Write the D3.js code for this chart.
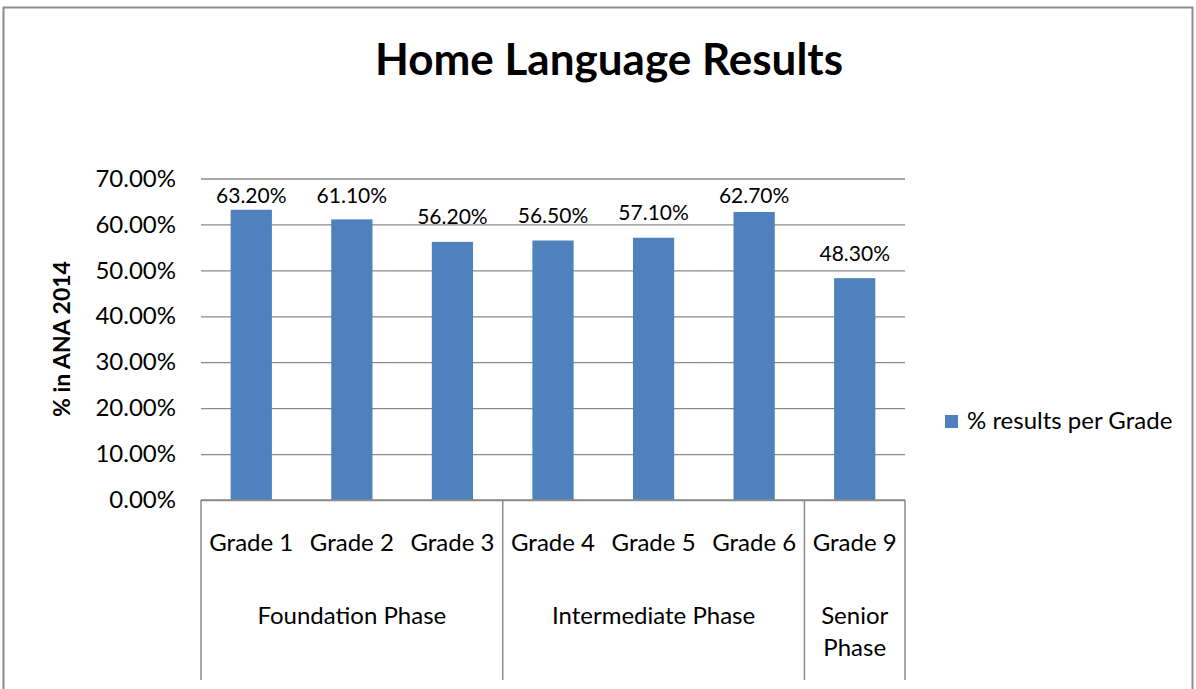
<!DOCTYPE html>
<html>
<head>
<meta charset="utf-8">
<script src="https://cdn.jsdelivr.net/npm/d3@7"></script>
<style>
  body { margin: 0; background: #fff; }
  svg { display: block; font-family: Lato, "Open Sans", sans-serif; }
</style>
</head>
<body>
<svg id="chart" width="1196" height="689"></svg>
<script>
const grades = ["Grade 1", "Grade 2", "Grade 3", "Grade 4", "Grade 5", "Grade 6", "Grade 9"];
const values = [63.2, 61.1, 56.2, 56.5, 57.1, 62.7, 48.3];
const phases = ["Foundation Phase", "Intermediate Phase", "Senior Phase"];
const phaseOfGrade = [0, 0, 0, 1, 1, 1, 2];
const yTicks = [0, 10, 20, 30, 40, 50, 60, 70];
const seriesName = "% results per Grade";

const margin = {top: 178.5, left: 201, right: 291, bottom: 189};
const width = 1196 - margin.left - margin.right;
const height = 689 - margin.top - margin.bottom;
const gridColor = "#8a8a8a";
const barColor = "#4f81bd";

const svg = d3.select("#chart");

// outer frame
svg.append("path")
    .attr("d", "M3.5,689 V7.5 H1192.5 V689")
    .attr("fill", "none")
    .attr("stroke", "#8c8c8c")
    .attr("stroke-width", 2);

svg.append("text")
    .attr("x", 609).attr("y", 75)
    .attr("text-anchor", "middle")
    .style("font-size", "44px").style("font-weight", "bold")
    .text("Home Language Results");

const x = d3.scaleBand().domain(grades).range([0, width]).paddingInner(0.59).paddingOuter(0.295);
const y = d3.scaleLinear().domain([0, 70]).range([height, 0]);

const g = svg.append("g").attr("transform", `translate(${margin.left},${margin.top})`);

// gridlines + y labels
const yAxis = g.append("g")
    .call(d3.axisLeft(y).tickValues(yTicks).tickSize(-width).tickFormat(d => d.toFixed(2) + "%"));
yAxis.select(".domain").remove();
yAxis.selectAll(".tick line").attr("stroke", gridColor).attr("stroke-width", 1.3);
yAxis.selectAll(".tick text")
    .attr("x", -25)
    .attr("fill", "#000")
    .style("font-size", "24px")
    .style("font-family", "Lato, sans-serif");

g.append("text")
    .attr("transform", `translate(${62 - margin.left},${339 - margin.top}) rotate(-90)`)
    .attr("text-anchor", "middle")
    .attr("dy", "0.35em")
    .style("font-size", "23px").style("font-weight", "bold")
    .text("% in ANA 2014");

// bars
g.selectAll("rect.bar")
    .data(values)
    .join("rect")
    .attr("class", "bar")
    .attr("x", (d, i) => x(grades[i]))
    .attr("y", d => y(d))
    .attr("width", x.bandwidth())
    .attr("height", d => height - y(d))
    .attr("fill", barColor);

// data labels
g.selectAll("text.lbl")
    .data(values)
    .join("text")
    .attr("class", "lbl")
    .attr("x", (d, i) => x(grades[i]) + x.bandwidth() / 2)
    .attr("y", d => Math.max(y(d) - 25, 196 - margin.top))
    .attr("dy", "0.35em")
    .attr("text-anchor", "middle")
    .style("font-size", "21px")
    .text(d => d.toFixed(2) + "%");

// category axis (two levels)
const step = x.step();
const axisG = g.append("g").attr("transform", `translate(0,${height})`);
axisG.append("line")
    .attr("x1", 0).attr("x2", width)
    .attr("stroke", gridColor).attr("stroke-width", 1.5);

// phase separators
const bounds = [0];
phaseOfGrade.forEach((p, i) => { if (i === phaseOfGrade.length - 1 || phaseOfGrade[i + 1] !== p) bounds.push(i + 1); });
axisG.selectAll("line.sep")
    .data(bounds)
    .join("line")
    .attr("class", "sep")
    .attr("x1", b => b * step).attr("x2", b => b * step)
    .attr("y1", 0).attr("y2", 180)
    .attr("stroke", gridColor).attr("stroke-width", 1.5);

axisG.selectAll("text.grade")
    .data(grades)
    .join("text")
    .attr("class", "grade")
    .attr("x", d => x(d) + x.bandwidth() / 2)
    .attr("y", 43)
    .attr("dy", "0.35em")
    .attr("text-anchor", "middle")
    .style("font-size", "24px")
    .text(d => d);

const phaseG = axisG.selectAll("text.phase")
    .data(phases)
    .join("text")
    .attr("class", "phase")
    .attr("text-anchor", "middle")
    .style("font-size", "24px")
    .attr("transform", (d, i) => `translate(${(bounds[i] + bounds[i + 1]) / 2 * step},116)`);
phaseG.each(function(d, i) {
    const t = d3.select(this);
    const words = i === 2 ? d.split(" ") : [d];
    words.forEach((w, k) => t.append("tspan").attr("x", 0).attr("y", k * 32).attr("dy", "0.35em").text(w));
});

// legend
const legend = svg.append("g").attr("transform", "translate(945,421)");
legend.append("rect").attr("x", 0).attr("y", -6).attr("width", 13).attr("height", 13).attr("fill", barColor);
legend.append("text").attr("x", 22).attr("y", 0).attr("dy", "0.35em")
    .style("font-size", "24px").text(seriesName);
</script>
</body>
</html>
